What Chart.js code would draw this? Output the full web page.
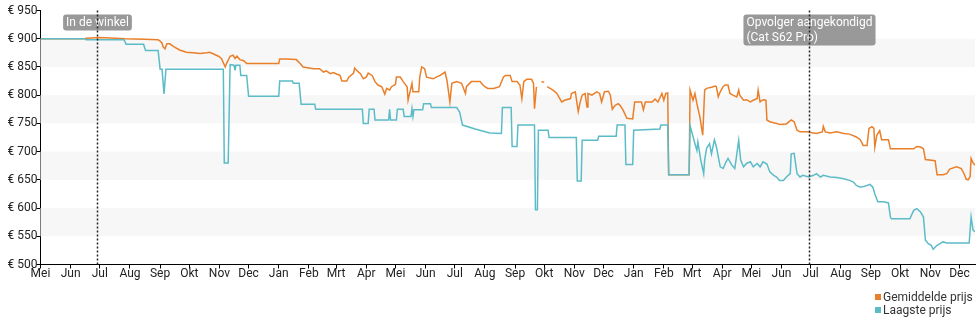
<!DOCTYPE html>
<html>
<head>
<meta charset="utf-8">
<script src="https://cdn.jsdelivr.net/npm/chart.js@4.4.1/dist/chart.umd.min.js"></script>
<style>
  html, body { margin: 0; padding: 0; background: #fff; }
  #wrap { position: relative; width: 980px; height: 325px; font-family: Roboto, "Open Sans", sans-serif; }
  #legend { position: absolute; left: 875px; top: 291px; font-size: 12px; line-height: 13px; color: #333; }
  #legend div { white-space: nowrap; }
  #legend span.box { display: inline-block; width: 6px; height: 6px; margin-right: 2px; vertical-align: 1px; }
</style>
</head>
<body>
<div id="wrap">
  <canvas id="c" width="980" height="325"></canvas>
  <div id="legend"></div>
</div>
<script>
// ---- data (day offsets since 1 mei 2018, prices in euro) ----
const startDate = Date.UTC(2018, 4, 1);
const lastDay = 961;
const monthNames = ['Jan','Feb','Mrt','Apr','Mei','Jun','Jul','Aug','Sep','Okt','Nov','Dec'];
const seriesNames = ['Gemiddelde prijs', 'Laagste prijs'];
const yTicks = [500, 550, 600, 650, 700, 750, 800, 850, 900, 950];
const shadedBands = [[850, 900], [750, 800], [650, 700], [550, 600]];

const avgDays = [0,46,47,61,77,87,107,121,123,125,126,128,130,133,137,143,150,157,164,171,174,178,183,186,190,191,195,198,200,202,205,209,212,245,246,253,263,267,270,281,287,291,294,298,301,305,308,310,315,317,322,323,325,329,332,335,337,341,344,347,351,354,356,359,361,365,366,370,373,377,378,382,383,389,390,392,395,397,404,407,411,416,418,421,423,428,433,437,438,443,452,455,457,460,466,472,476,478,483,485,490,493,495,497,500,505,507,508,510,512,515,518,519,521,527,531,533,536,539,545,546,550,551,553,555,557,560,562,563,567,572,575,577,580,584,586,588,591,594,596,599,603,609,611,618,620,622,629,632,635,639,641,643,645,646,667,668,669,671,673,675,678,681,682,683,685,690,694,695,697,699,702,704,707,709,712,716,718,719,723,726,730,733,737,738,740,743,746,747,750,754,757,760,767,772,775,778,781,788,795,798,804,805,807,812,819,826,832,839,843,846,850,852,855,857,858,860,863,865,872,874,898,901,905,908,910,920,922,928,932,935,942,947,950,952,954,956,957,959,961];
const avgPrices = [900,900,901,902,901,900,899,898,896,892,886,882,891,891,886,880,876,875,874,875,876,873,869,865,850,855,869,871,865,869,863,861,856,856,864,864,863,856,850,847,847,841,843,838,840,837,835,825,825,832,839,848,844,838,829,832,839,835,824,818,815,802,812,809,815,819,832,832,824,815,791,821,806,806,832,850,847,832,829,832,835,841,826,788,821,824,821,803,815,824,824,818,815,812,812,815,832,835,835,824,824,818,794,824,828,828,821,776,815,null,824,823,null,815,809,803,797,788,791,794,803,806,794,771,788,800,803,779,803,800,806,803,788,806,807,800,775,782,785,782,774,759,758,788,788,774,788,788,793,788,803,791,803,804,659,659,809,803,791,803,785,762,729,768,809,812,814,816,815,797,806,815,818,818,803,800,797,809,800,791,792,788,791,794,809,788,792,791,756,753,751,750,748,749,756,753,738,735,735,733,732,735,745,735,733,735,732,731,726,721,711,711,741,744,741,708,729,737,721,721,705,705,709,708,705,686,684,659,659,661,669,673,670,660,651,650,656,688,680,676];

const lowDays = [0,46,47,86,88,106,108,121,123,125,127,129,188,189,193,195,199,200,201,205,206,212,214,245,246,259,260,266,268,282,283,331,332,337,338,343,344,358,359,360,366,367,373,374,381,382,383,384,393,394,401,402,428,431,434,447,462,474,475,484,485,490,491,508,509,511,512,522,523,551,552,556,557,573,574,592,593,601,602,609,610,637,638,645,646,667,668,673,675,676,679,682,683,685,688,690,693,695,699,702,705,707,711,714,718,720,723,726,730,733,737,740,743,747,750,754,757,760,764,767,771,772,775,778,781,784,790,795,798,802,805,812,819,826,832,836,839,843,846,850,853,856,858,861,867,872,874,875,894,898,901,905,908,910,913,916,918,922,925,928,932,942,955,957,959,961];
const lowPrices = [900,900,898,898,890,890,879,879,846,846,802,846,846,680,680,854,853,844,853,853,835,835,798,798,825,825,821,821,784,784,775,775,750,750,775,775,756,756,775,756,756,775,775,762,762,776,762,774,774,785,785,778,778,770,747,740,733,732,778,778,709,709,747,747,597,597,738,738,725,725,648,648,720,720,727,727,747,747,677,677,738,740,747,747,659,659,746,714,702,717,685,661,685,706,714,696,721,709,673,670,682,688,676,670,720,685,673,679,682,673,679,673,682,678,664,658,655,649,649,655,661,696,697,661,655,658,655,658,661,655,658,655,654,652,649,646,640,637,638,640,642,637,625,611,611,609,584,581,581,596,599,593,584,543,537,534,527,534,537,540,538,538,538,584,561,558];

const annotations = [
  { day: 58, lines: ['In de winkel'] },
  { day: 790, lines: ['Opvolger aangekondigd', '(Cat S62 Pro)'] }
];

const colors = ['#ea7f2a', '#5bbcc8'];

// ---- build ----
function pts(days, prices) { return days.map((d, i) => ({ x: d, y: prices[i] })); }
const monthTicks = [];
for (let m = 0; ; m++) {
  const t = Date.UTC(2018, 4 + m, 1);
  const d = Math.round((t - startDate) / 86400000);
  if (d > lastDay) break;
  monthTicks.push({ value: d, label: monthNames[new Date(t).getUTCMonth()] });
}

const FONT = 'Roboto, "Open Sans", sans-serif';
Chart.defaults.font.family = FONT;
Chart.defaults.font.size = 12;
Chart.defaults.color = '#222';

const bandsPlugin = {
  id: 'bands',
  beforeDatasetsDraw(chart) {
    const { ctx, chartArea: a, scales: { y } } = chart;
    ctx.save();
    ctx.fillStyle = '#f7f7f7';
    shadedBands.forEach(([lo, hi]) => {
      const yTop = y.getPixelForValue(hi);
      const yBot = y.getPixelForValue(lo);
      ctx.fillRect(a.left, yTop, a.right - a.left, yBot - yTop);
    });
    ctx.restore();
  }
};

function roundRect(ctx, x, y, w, h, r) {
  ctx.beginPath();
  ctx.moveTo(x + r, y);
  ctx.lineTo(x + w - r, y); ctx.quadraticCurveTo(x + w, y, x + w, y + r);
  ctx.lineTo(x + w, y + h - r); ctx.quadraticCurveTo(x + w, y + h, x + w - r, y + h);
  ctx.lineTo(x + r, y + h); ctx.quadraticCurveTo(x, y + h, x, y + h - r);
  ctx.lineTo(x, y + r); ctx.quadraticCurveTo(x, y, x + r, y);
  ctx.closePath();
}

const annotPlugin = {
  id: 'annot',
  afterDatasetsDraw(chart) {
    const { ctx, chartArea: a, scales: { x } } = chart;
    ctx.save();
    ctx.font = '12px ' + FONT;
    annotations.forEach(an => {
      const px = Math.round(x.getPixelForValue(an.day)) + 0.5;
      const lh = 15;
      const w = Math.max(...an.lines.map(l => ctx.measureText(l).width)) + 6;
      const h = an.lines.length * lh + 1;
      const bx = px - w / 2, by = a.top + 4;
      ctx.fillStyle = 'rgba(135,135,135,0.85)';
      roundRect(ctx, bx, by, w, h, 3);
      ctx.fill();
      ctx.fillStyle = '#fff';
      ctx.textBaseline = 'middle';
      ctx.textAlign = 'left';
      an.lines.forEach((l, i) => ctx.fillText(l, bx + 3, by + lh / 2 + i * lh + 1));
      ctx.strokeStyle = '#222';
      ctx.lineWidth = 1.5;
      ctx.setLineDash([2, 2]);
      ctx.beginPath();
      ctx.moveTo(px, a.top);
      ctx.lineTo(px, a.bottom);
      ctx.stroke();
      ctx.setLineDash([]);
    });
    ctx.restore();
  }
};

new Chart(document.getElementById('c'), {
  type: 'line',
  data: {
    datasets: [
      { label: seriesNames[0], data: pts(avgDays, avgPrices), borderColor: colors[0], backgroundColor: colors[0], borderWidth: 1.5, pointRadius: 0, tension: 0, spanGaps: false, order: 1 },
      { label: seriesNames[1], data: pts(lowDays, lowPrices), borderColor: colors[1], backgroundColor: colors[1], borderWidth: 1.5, pointRadius: 0, tension: 0, spanGaps: false, order: 0 }
    ]
  },
  options: {
    responsive: false,
    animation: false,
    devicePixelRatio: 1,
    layout: { padding: { top: 10.5, right: 5, bottom: 0, left: 0 } },
    plugins: { legend: { display: false }, tooltip: { enabled: false } },
    scales: {
      x: {
        type: 'linear', min: 0, max: lastDay,
        afterBuildTicks: s => { s.ticks = monthTicks.map(t => ({ value: t.value })); },
        afterFit: s => { s.height = 60.5; },
        ticks: {
          autoSkip: false, maxRotation: 0, minRotation: 0, padding: -2, color: '#222',
          callback: v => { const t = monthTicks.find(m => m.value === v); return t ? t.label : ''; }
        },
        grid: { display: true, drawOnChartArea: false, drawTicks: true, tickLength: 4, color: '#000' },
        border: { display: true, color: '#000', width: 1 }
      },
      y: {
        type: 'linear', min: 500, max: 950,
        afterBuildTicks: s => { s.ticks = yTicks.map(v => ({ value: v })); },
        afterFit: s => { s.width = 40.5; },
        ticks: { padding: -1, color: '#222', callback: v => '€ ' + v },
        grid: { display: true, drawOnChartArea: false, drawTicks: true, tickLength: 4, color: '#000' },
        border: { display: true, color: '#000', width: 1 }
      }
    }
  },
  plugins: [bandsPlugin, annotPlugin]
});

// HTML legend
const lg = document.getElementById('legend');
seriesNames.forEach((n, i) => {
  const d = document.createElement('div');
  const b = document.createElement('span');
  b.className = 'box'; b.style.background = colors[i];
  d.appendChild(b); d.appendChild(document.createTextNode(n));
  lg.appendChild(d);
});
</script>
</body>
</html>
